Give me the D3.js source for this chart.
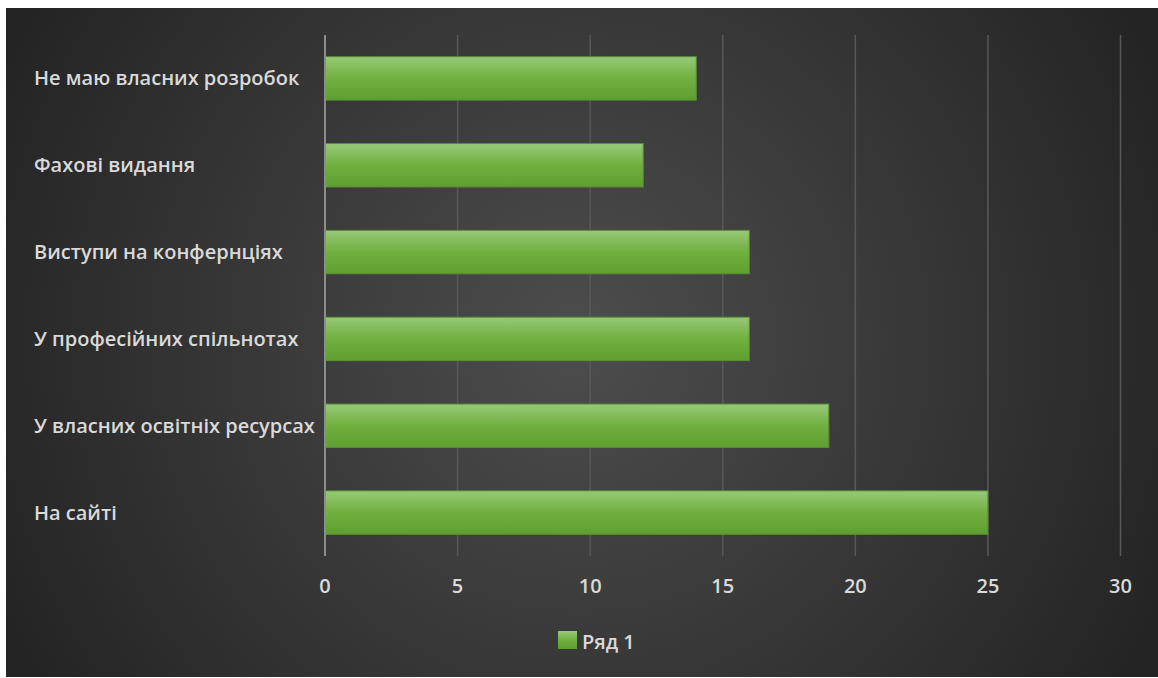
<!DOCTYPE html>
<html><head><meta charset="utf-8">
<script src="https://cdn.jsdelivr.net/npm/d3@7"></script>
<style>
html,body{margin:0;padding:0;background:#fff;}
svg{display:block;}
text{font-family:"Open Sans",sans-serif;}
</style></head>
<body>
<svg id="chart" width="1158" height="678"></svg>
<script>
const categories = ["Не маю власних розробок","Фахові видання","Виступи на конфернціях","У професійних спільнотах","У власних освітніх ресурсах","На сайті"];
const values = [14, 12, 16, 16, 19, 25];
const xTicks = [0, 5, 10, 15, 20, 25, 30];
const seriesName = "Ряд 1";

const svg = d3.select("#chart");
const defs = svg.append("defs");
const bg = defs.append("radialGradient").attr("id","bg")
  .attr("gradientUnits","userSpaceOnUse").attr("cx",580).attr("cy",340).attr("r",640);
bg.append("stop").attr("offset","0").attr("stop-color","#4d4d4d");
bg.append("stop").attr("offset","1").attr("stop-color","#242424");
const bar = defs.append("linearGradient").attr("id","bar").attr("x1",0).attr("y1",0).attr("x2",0).attr("y2",1);
bar.append("stop").attr("offset","0").attr("stop-color","#97c978");
bar.append("stop").attr("offset","0.5").attr("stop-color","#70b03f");
bar.append("stop").attr("offset","1").attr("stop-color","#5f9f30");

svg.append("rect").attr("x",6).attr("y",8).attr("width",1152).attr("height",669).attr("fill","url(#bg)");

const x = d3.scaleLinear().domain([0,30]).range([325,1120.5]);
const y = d3.scaleBand().domain(categories).range([35,556]).paddingInner(0.5).paddingOuter(0.25);

// gridlines
svg.append("g").selectAll("line").data(xTicks.slice(1)).join("line")
  .attr("x1",d=>x(d)).attr("x2",d=>x(d)).attr("y1",35).attr("y2",556)
  .attr("stroke","#585858").attr("stroke-width",1.5);

// bars
svg.append("g").selectAll("rect").data(values).join("rect")
  .attr("x",x(0)).attr("y",(d,i)=>y(categories[i]))
  .attr("width",d=>x(d)-x(0)).attr("height",y.bandwidth())
  .attr("fill","url(#bar)").attr("stroke","#5a8f36").attr("stroke-width",1);

// zero axis
svg.append("line").attr("x1",x(0)).attr("x2",x(0)).attr("y1",35).attr("y2",556)
  .attr("stroke","#8c8c8c").attr("stroke-width",2);

// category labels
svg.append("g").selectAll("text").data(categories).join("text")
  .attr("x",34).attr("y",d=>y(d)+y.bandwidth()/2).attr("dy","0.35em")
  .attr("fill","#d9d9d9").attr("font-size",20).attr("font-weight",600)
  .text(d=>d);

// x tick labels
svg.append("g").selectAll("text").data(xTicks).join("text")
  .attr("x",d=>x(d)).attr("y",586).attr("dy","0.35em").attr("text-anchor","middle")
  .attr("fill","#d9d9d9").attr("font-size",20).attr("font-weight",600)
  .text(d=>d);

// legend
svg.append("rect").attr("x",558).attr("y",631).attr("width",19).attr("height",18)
  .attr("fill","url(#bar)");
svg.append("text").attr("x",582).attr("y",642).attr("dy","0.35em")
  .attr("fill","#d9d9d9").attr("font-size",20).attr("font-weight",600).text(seriesName);
</script>
</body></html>
